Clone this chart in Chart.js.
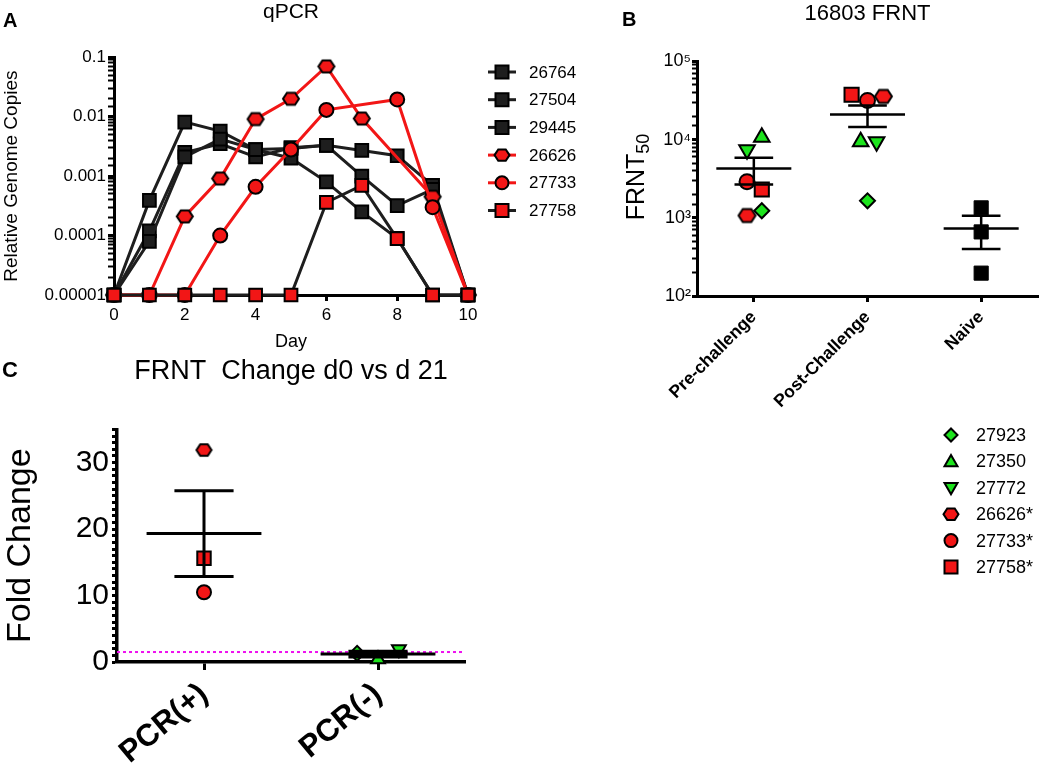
<!DOCTYPE html>
<html>
<head>
<meta charset="utf-8">
<title>qPCR and FRNT</title>
<script src="https://cdn.jsdelivr.net/npm/chart.js@4.4.0/dist/chart.umd.min.js"></script>
<style>
  html, body { margin: 0; padding: 0; background: #fff; }
  #page { position: relative; width: 1050px; height: 770px; overflow: hidden;
          font-family: 'Liberation Sans', Arial, sans-serif; color: #000; }
  .box { position: absolute; }
  .letter { position: absolute; font-weight: bold; line-height: 1; }
  #frntTitle { position: absolute; left: 637px; top: 177px; white-space: nowrap; line-height: 1;
               font-size: 25px; transform: translate(-50%, -50%) rotate(-90deg); }
  #frntTitle sub { font-size: 18px; vertical-align: -5px; }
</style>
</head>
<body>
<div id="page">
  <div class="box" style="left:0;top:0"><canvas id="chartA" width="650" height="355"></canvas></div>
  <div class="box" style="left:560px;top:0"><canvas id="chartB" width="490" height="420"></canvas></div>
  <div class="box" style="left:0;top:345px"><canvas id="chartC" width="1050" height="425"></canvas></div>
  <div class="letter" style="left:3px;top:10px;font-size:20px">A</div>
  <div class="letter" style="left:622px;top:9px;font-size:20px">B</div>
  <div class="letter" style="left:2px;top:359px;font-size:22px">C</div>
  <div id="frntTitle">FRNT<sub>50</sub></div>
</div>
<script>
// ---- panel A: qPCR, relative genome copies per day ----
const days = [0, 1, 2, 3, 4, 5, 6, 7, 8, 9, 10];
const seriesA = ['26764', '27504', '29445', '26626', '27733', '27758'];
const copies26764 = [1e-5, 3.9e-4, 8.1e-3, 5.7e-3, 2.8e-3, 2.0e-3, 8.0e-4, 2.5e-4, 9e-5, 1e-5, 1e-5];
const copies27504 = [1e-5, 1.2e-4, 2.5e-3, 3.5e-3, 2.1e-3, 3.0e-3, 3.3e-3, 2.7e-3, 2.2e-3, 7e-4, 1e-5];
const copies29445 = [1e-5, 8e-5, 2.1e-3, 4.2e-3, 2.8e-3, 2.9e-3, 3.3e-3, 1.0e-3, 3.2e-4, 6e-4, 1e-5];
const copies26626 = [1e-5, 1e-5, 2.1e-4, 9.1e-4, 9.1e-3, 2.0e-2, 7.0e-2, 9.3e-3, null, 4.5e-4, 1e-5];
const copies27733 = [1e-5, 1e-5, 1e-5, 1.0e-4, 6.6e-4, 2.8e-3, 1.3e-2, null, 1.95e-2, 3.0e-4, 1e-5];
const copies27758 = [1e-5, 1e-5, 1e-5, 1e-5, 1e-5, 1e-5, 3.6e-4, 7.0e-4, 8.9e-5, 1e-5, 1e-5];
const yTicksA = ['0.00001', '0.0001', '0.001', '0.01', '0.1'];

// ---- panel B: FRNT50 titres ----
const groupsB = ['Pre-challenge', 'Post-Challenge', 'Naive'];
const animals = ['27923', '27350', '27772', '26626*', '27733*', '27758*'];
const preChallenge = [1230, 10700, 7400, 1070, 2900, 2300];
const postChallenge = [1650, 9400, 9400, 35700, 31700, 37500];
const naive = [1340, 660, 196];
const preJitter = [0.07, 0.07, -0.06, -0.06, -0.06, 0.07];
const postJitter = [0, -0.06, 0.08, 0.14, 0, -0.14];
const naiveJitter = [0, 0, 0];
const yTicksB = ['10²', '10³', '10⁴', '10⁵'];

// ---- panel C: fold change d0 vs d21 ----
const groupsC = ['PCR(+)', 'PCR(-)'];
const foldChange = [1.3, 0.4, 1.9, 31.9, 10.5, 15.6];
const foldGroup = [1, 1, 1, 0, 0, 0];
const foldJitter = [-0.12, 0, 0.12, 0, 0, 0];
const foldCutoff = 1.5;

const RED = '#f21616';
const GREEN = '#1de41d';
const INK = '#1e1e1e';

Chart.defaults.font.family = "'Liberation Sans', Arial, sans-serif";
Chart.defaults.color = '#000';

const lookA = {
    '26764': { shape: 'rect', fill: INK, line: INK, order: 5 },
    '27504': { shape: 'rect', fill: INK, line: INK, order: 4 },
    '29445': { shape: 'rect', fill: INK, line: INK, order: 3 },
    '26626': { shape: 'hex', fill: RED, line: RED, order: 2 },
    '27733': { shape: 'circle', fill: RED, line: RED, order: 1 },
    '27758': { shape: 'rect', fill: RED, line: INK, order: 0 }
};
const lookB = [
    { shape: 'rectRot', fill: GREEN, order: 3 },
    { shape: 'triangle', fill: GREEN, order: 4 },
    { shape: 'triangleDown', fill: GREEN, order: 5 },
    { shape: 'hex', fill: RED, order: 2 },
    { shape: 'circle', fill: RED, order: 0 },
    { shape: 'rect', fill: RED, order: 1 }
];
const sizeA = { rect: 9, circle: 7, hex: 8 };
const sizeB = { rect: 10, circle: 7.5, hex: 8.5, triangle: 9, triangleDown: 9, rectRot: 7.5 };
const sizeC = { rect: 9.5, circle: 7, hex: 7.5, triangle: 8, triangleDown: 8, rectRot: 7.5 };

function hexPath(g, x, y, r) {
    g.beginPath();
    for (let k = 0; k < 6; k++) {
        const a = Math.PI / 3 * k;
        const px = x + r * Math.cos(a), py = y + r * 0.88 * Math.sin(a);
        if (k === 0) g.moveTo(px, py); else g.lineTo(px, py);
    }
    g.closePath();
}

function hexImage(r, fill) {
    const c = document.createElement('canvas');
    c.width = Math.ceil(2 * r + 4);
    c.height = Math.ceil(2 * r * 0.8 + 4);
    const g = c.getContext('2d');
    hexPath(g, c.width / 2, c.height / 2, r);
    g.fillStyle = fill;
    g.fill();
    g.lineWidth = 2;
    g.strokeStyle = '#000';
    g.stroke();
    return c;
}

// point options for one marker shape
function pointLook(shape, sizes, fill) {
    const r = sizes[shape];
    if (shape === 'hex') return { pointStyle: hexImage(r, fill), pointRadius: r, rotation: 0 };
    if (shape === 'triangleDown') return { pointStyle: 'triangle', pointRadius: r, rotation: 180 };
    return { pointStyle: shape, pointRadius: r, rotation: 0 };
}

// legend marker drawn by hand
function drawMarker(ctx, shape, x, y, s, fill) {
    ctx.beginPath();
    if (shape === 'rect') {
        ctx.rect(x - s, y - s, 2 * s, 2 * s);
    } else if (shape === 'circle') {
        ctx.arc(x, y, s, 0, Math.PI * 2);
    } else if (shape === 'triangle') {
        ctx.moveTo(x, y - s); ctx.lineTo(x + s, y + s * 0.75); ctx.lineTo(x - s, y + s * 0.75); ctx.closePath();
    } else if (shape === 'triangleDown') {
        ctx.moveTo(x, y + s); ctx.lineTo(x + s, y - s * 0.75); ctx.lineTo(x - s, y - s * 0.75); ctx.closePath();
    } else if (shape === 'rectRot') {
        ctx.moveTo(x, y - s); ctx.lineTo(x + s, y); ctx.lineTo(x, y + s); ctx.lineTo(x - s, y); ctx.closePath();
    } else if (shape === 'hex') {
        hexPath(ctx, x, y, s);
    }
    ctx.fillStyle = fill;
    ctx.fill();
    ctx.lineWidth = 2;
    ctx.strokeStyle = '#000';
    ctx.stroke();
}

function isDecade(v) {
    const e = Math.log10(v);
    return Math.abs(e - Math.round(e)) < 1e-6;
}

function meanSem(vals) {
    const n = vals.length;
    const m = vals.reduce((a, b) => a + b, 0) / n;
    const sd = Math.sqrt(vals.reduce((a, v) => a + (v - m) * (v - m), 0) / (n - 1));
    return { mean: m, sem: sd / Math.sqrt(n) };
}

// mean line with SEM whiskers, drawn through the chart's scales
function makeErrorBars(groups, width) {
    return {
        id: 'errorBars',
        afterDatasetsDraw(chart) {
            const { ctx, scales: { x, y } } = chart;
            ctx.save();
            ctx.strokeStyle = '#000';
            ctx.lineWidth = width;
            groups.forEach(g => {
                const { mean, sem } = meanSem(g.values);
                const cx = x.getPixelForValue(g.at);
                const yMean = y.getPixelForValue(mean);
                const yHi = y.getPixelForValue(mean + sem);
                const yLo = y.getPixelForValue(mean - sem);
                ctx.beginPath();
                ctx.moveTo(x.getPixelForValue(g.at - 0.33), yMean);
                ctx.lineTo(x.getPixelForValue(g.at + 0.33), yMean);
                ctx.moveTo(cx, yHi);
                ctx.lineTo(cx, yLo);
                ctx.moveTo(x.getPixelForValue(g.at - 0.17), yHi);
                ctx.lineTo(x.getPixelForValue(g.at + 0.17), yHi);
                ctx.moveTo(x.getPixelForValue(g.at - 0.17), yLo);
                ctx.lineTo(x.getPixelForValue(g.at + 0.17), yLo);
                ctx.stroke();
            });
            ctx.restore();
        }
    };
}

const axisLine = { display: true, color: '#000', width: 3 };
function tickGrid(len) {
    return {
        display: true, drawOnChartArea: false, drawTicks: true, tickLength: len,
        tickColor: '#000',
        tickWidth: c => (c.tick && c.scale.type === 'logarithmic' && !isDecade(c.tick.value)) ? 2 : 3
    };
}

// ---------- chart A ----------
const keyA = {
    id: 'keyA',
    afterDraw(chart) {
        const ctx = chart.ctx;
        ctx.save();
        seriesA.forEach((name, i) => {
            const look = lookA[name];
            const y = 72 + i * 27.7;
            ctx.strokeStyle = look.line;
            ctx.lineWidth = 3;
            ctx.beginPath();
            ctx.moveTo(488, y);
            ctx.lineTo(516, y);
            ctx.stroke();
            drawMarker(ctx, look.shape, 502, y, look.shape === 'hex' ? 7.5 : 6.5, look.fill);
            ctx.fillStyle = '#000';
            ctx.font = "17px 'Liberation Sans', Arial, sans-serif";
            ctx.textBaseline = 'middle';
            ctx.fillText(name, 529, y + 1);
        });
        ctx.restore();
    }
};

const copiesA = [copies26764, copies27504, copies29445, copies26626, copies27733, copies27758];
new Chart(document.getElementById('chartA'), {
    type: 'line',
    data: {
        datasets: seriesA.map((name, i) => {
            const look = lookA[name];
            const pt = pointLook(look.shape, sizeA, look.fill);
            return {
                label: name,
                data: days.map((d, j) => ({ x: d, y: copiesA[i][j] })),
                borderColor: look.line,
                borderWidth: 3,
                backgroundColor: look.fill,
                pointBackgroundColor: look.fill,
                pointBorderColor: '#000',
                pointBorderWidth: 2,
                pointStyle: pt.pointStyle,
                pointRadius: pt.pointRadius,
                pointRotation: pt.rotation,
                spanGaps: true,
                clip: false,
                order: look.order
            };
        })
    },
    options: {
        responsive: false,
        animation: false,
        layout: { padding: { left: 0, right: 182, top: 0, bottom: 2 } },
        plugins: {
            legend: { display: false },
            tooltip: { enabled: false },
            title: {
                display: true, text: 'qPCR', fullSize: false,
                font: { size: 21, weight: 'normal' }, padding: { top: 0, bottom: 32 }
            }
        },
        scales: {
            x: {
                type: 'linear', min: 0, max: 10,
                ticks: { stepSize: 2, font: { size: 17 }, padding: 4 },
                grid: tickGrid(6),
                border: axisLine,
                title: { display: true, text: 'Day', font: { size: 18 }, padding: 0 },
                afterFit: s => { s.height = 58; }
            },
            y: {
                type: 'logarithmic', min: 1e-5, max: 0.1,
                ticks: {
                    autoSkip: false, font: { size: 17 }, padding: 2,
                    callback: v => isDecade(v) ? yTicksA[Math.round(Math.log10(v)) + 5] : ''
                },
                grid: tickGrid(6),
                border: axisLine,
                title: { display: true, text: 'Relative Genome Copies', font: { size: 19 }, padding: 0 },
                afterFit: s => { s.width = 114; }
            }
        }
    },
    plugins: [keyA]
});

// ---------- chart B ----------
const datasetsB = animals.map((name, i) => {
    const look = lookB[i];
    const pt = pointLook(look.shape, sizeB, look.fill);
    return {
        label: name,
        data: [
            { x: 0 + preJitter[i], y: preChallenge[i] },
            { x: 1 + postJitter[i], y: postChallenge[i] }
        ],
        backgroundColor: look.fill,
        borderColor: '#000',
        borderWidth: 2,
        pointStyle: pt.pointStyle,
        pointRadius: pt.pointRadius,
        rotation: pt.rotation,
        clip: false,
        order: look.order
    };
});
datasetsB.push({
    label: 'Naive',
    data: naive.map((v, i) => ({ x: 2 + naiveJitter[i], y: v })),
    backgroundColor: '#000',
    borderColor: '#000',
    borderWidth: 1,
    pointStyle: 'rect',
    pointRadius: 10,
    clip: false,
    order: 6
});

new Chart(document.getElementById('chartB'), {
    type: 'scatter',
    data: { datasets: datasetsB },
    options: {
        responsive: false,
        animation: false,
        layout: { padding: { left: 0, right: 1, top: 0, bottom: 0 } },
        plugins: {
            legend: { display: false },
            tooltip: { enabled: false },
            title: {
                display: true, text: '16803 FRNT', fullSize: false,
                font: { size: 22, weight: 'normal' }, padding: { top: 1, bottom: 34 }
            }
        },
        scales: {
            x: {
                type: 'linear', min: -0.5, max: 2.5,
                afterBuildTicks: s => { s.ticks = groupsB.map((_, i) => ({ value: i })); },
                ticks: {
                    autoSkip: false, minRotation: 45, maxRotation: 45, padding: 5,
                    font: { size: 17.5, weight: 'bold' },
                    callback: v => groupsB[v]
                },
                grid: tickGrid(6),
                border: axisLine,
                afterFit: s => { s.height = 124; }
            },
            y: {
                type: 'logarithmic', min: 100, max: 100000,
                ticks: {
                    autoSkip: false, font: { size: 18 }, padding: 1,
                    callback: v => isDecade(v) ? yTicksB[Math.round(Math.log10(v)) - 2] : ''
                },
                grid: tickGrid(5),
                border: axisLine,
                afterFit: s => { s.width = 137; }
            }
        }
    },
    plugins: [makeErrorBars([
        { at: 0, values: preChallenge },
        { at: 1, values: postChallenge },
        { at: 2, values: naive }
    ], 2.5)]
});

// ---------- chart C ----------
const keyBC = {
    id: 'keyBC',
    afterDraw(chart) {
        const ctx = chart.ctx;
        ctx.save();
        animals.forEach((name, i) => {
            const y = 90 + i * 26.4;
            drawMarker(ctx, lookB[i].shape, 951, y, lookB[i].shape === 'hex' ? 7.5 : 6.5, lookB[i].fill);
            ctx.fillStyle = '#000';
            ctx.font = "18px 'Liberation Sans', Arial, sans-serif";
            ctx.textBaseline = 'middle';
            ctx.fillText(name, 976, y + 1);
        });
        ctx.restore();
    }
};

const datasetsC = animals.map((name, i) => {
    const look = lookB[i];
    const pt = pointLook(look.shape, sizeC, look.fill);
    return {
        label: name,
        data: [{ x: foldGroup[i] + foldJitter[i], y: foldChange[i] }],
        backgroundColor: look.fill,
        borderColor: '#000',
        borderWidth: 2,
        pointStyle: pt.pointStyle,
        pointRadius: pt.pointRadius,
        rotation: pt.rotation,
        clip: false,
        order: look.order
    };
});
datasetsC.push({
    type: 'line',
    label: 'cutoff',
    data: [{ x: -0.5, y: foldCutoff }, { x: 1.5, y: foldCutoff }],
    borderColor: '#ee10ee',
    borderWidth: 2,
    borderDash: [3, 3],
    pointRadius: 0,
    order: 10
});

new Chart(document.getElementById('chartC'), {
    type: 'scatter',
    data: { datasets: datasetsC },
    options: {
        responsive: false,
        animation: false,
        layout: { padding: { left: 0, right: 585, top: 0, bottom: 0 } },
        plugins: {
            legend: { display: false },
            tooltip: { enabled: false },
            title: {
                display: true, text: 'FRNT  Change d0 vs d 21', fullSize: false,
                font: { size: 27, weight: 'normal' }, padding: { top: 10, bottom: 42 }
            }
        },
        scales: {
            x: {
                type: 'linear', min: -0.5, max: 1.5,
                afterBuildTicks: s => { s.ticks = groupsC.map((_, i) => ({ value: i })); },
                ticks: {
                    autoSkip: false, minRotation: 40, maxRotation: 40, padding: 6,
                    font: { size: 31, weight: 'bold' },
                    callback: v => groupsC[v]
                },
                grid: tickGrid(8),
                border: { display: true, color: '#000', width: 3.5 },
                afterFit: s => { s.height = 108; }
            },
            y: {
                type: 'linear', min: 0, max: 35,
                ticks: {
                    stepSize: 1, autoSkip: false, maxTicksLimit: 100, font: { size: 30 }, padding: 3,
                    callback: v => (v % 10 === 0 ? String(v) : '')
                },
                grid: tickGrid(5),
                border: { display: true, color: '#000', width: 3.5 },
                title: { display: true, text: 'Fold Change', font: { size: 34 }, padding: 0 },
                afterFit: s => { s.width = 117; }
            }
        }
    },
    plugins: [makeErrorBars([
        { at: 0, values: foldChange.filter((_, i) => foldGroup[i] === 0) },
        { at: 1, values: foldChange.filter((_, i) => foldGroup[i] === 1) }
    ], 3), keyBC]
});
</script>
</body>
</html>
